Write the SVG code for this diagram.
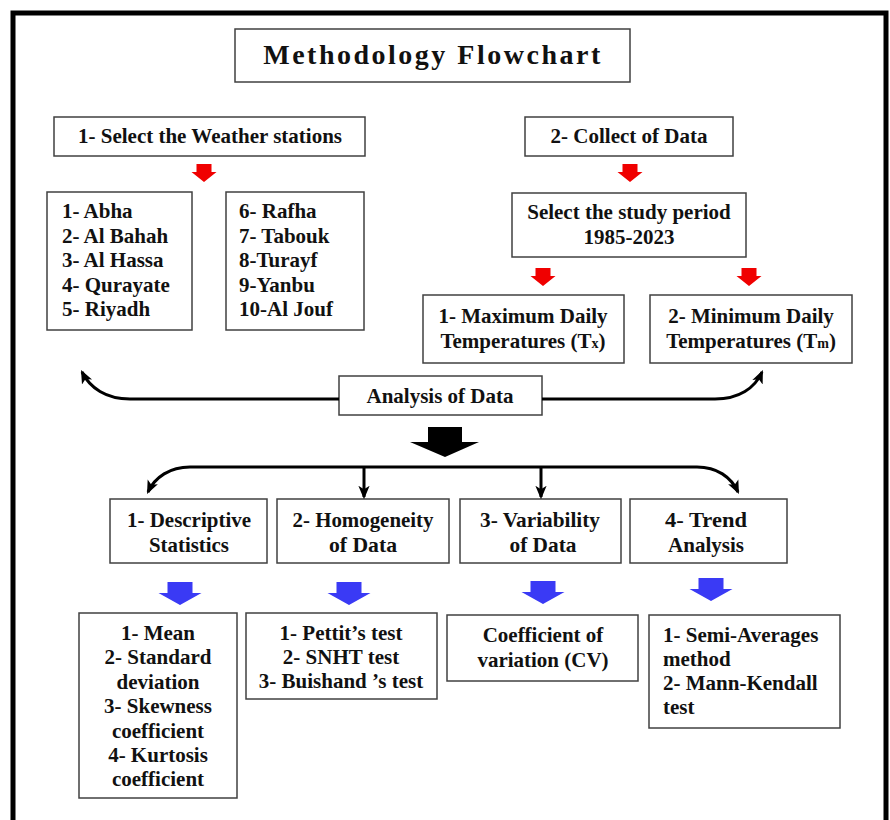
<svg xmlns="http://www.w3.org/2000/svg" width="890" height="820" viewBox="0 0 890 820">
<style>
.box{fill:#fff;stroke:#404040;stroke-width:1.5}
.t{font-family:"Liberation Serif","Times New Roman",serif;font-weight:bold;font-size:21px;fill:#111}
.c{text-anchor:middle}
.con{fill:none;stroke:#000;stroke-width:3}
.red{fill:#f00000}
.blue{fill:#3a3af5}
</style>
<defs>
<marker id="ah" viewBox="0 0 12 10" refX="10" refY="5" markerWidth="4.5" markerHeight="4.5" orient="auto" markerUnits="strokeWidth">
<path d="M0,0 L12,5 L0,10 L3,5 z" fill="#000"/>
</marker>
<path id="redArrow" d="M-7.5,0 H7.5 V8 H12.5 L0,18 L-12.5,8 H-7.5 z"/>
<path id="blueArrow" d="M-12.5,0 H12.5 V11 H21.5 L0,23 L-21.5,11 H-12.5 z"/>
</defs>
<rect x="0" y="0" width="890" height="820" fill="#fff"/>
<rect x="13" y="13" width="873" height="830" fill="none" stroke="#000" stroke-width="5"/>

<g id="title">
<rect class="box" x="235" y="29" width="395" height="53"/>
<text class="t c" x="433" y="64" style="font-size:28px;letter-spacing:2.5px">Methodology Flowchart</text>
</g>

<g id="select-stations">
<rect class="box" x="54" y="117" width="311" height="39"/>
<text class="t c" x="210" y="143">1- Select the Weather stations</text>
</g>

<g id="stations-a">
<rect class="box" x="47" y="192" width="145" height="138"/>
<text class="t" x="62" y="218">1- Abha</text>
<text class="t" x="62" y="243">2- Al Bahah</text>
<text class="t" x="62" y="267">3- Al Hassa</text>
<text class="t" x="62" y="292">4- Qurayate</text>
<text class="t" x="62" y="316">5- Riyadh</text>
</g>

<g id="stations-b">
<rect class="box" x="226" y="192" width="138" height="138"/>
<text class="t" x="239" y="218">6- Rafha</text>
<text class="t" x="239" y="243">7- Tabouk</text>
<text class="t" x="239" y="267">8-Turayf</text>
<text class="t" x="239" y="292">9-Yanbu</text>
<text class="t" x="239" y="316">10-Al Jouf</text>
</g>

<g id="collect-data">
<rect class="box" x="525" y="117" width="208" height="39"/>
<text class="t c" x="629" y="143">2- Collect of Data</text>
</g>

<g id="study-period">
<rect class="box" x="512" y="193" width="234" height="64"/>
<text class="t c" x="629" y="219">Select the study period</text>
<text class="t c" x="629" y="244">1985-2023</text>
</g>

<g id="max-temp">
<rect class="box" x="423" y="295" width="201" height="68"/>
<text class="t c" x="523" y="323">1- Maximum Daily</text>
<text class="t c" x="523" y="348">Temperatures (T<tspan style="font-size:14px">x</tspan>)</text>
</g>

<g id="min-temp">
<rect class="box" x="650" y="295" width="202" height="68"/>
<text class="t c" x="751" y="323">2- Minimum Daily</text>
<text class="t c" x="751" y="348">Temperatures (T<tspan style="font-size:14px">m</tspan>)</text>
</g>

<g id="analysis">
<rect class="box" x="339" y="376" width="203" height="39"/>
<text class="t c" x="440" y="403">Analysis of Data</text>
</g>

<g id="descriptive">
<rect class="box" x="110" y="499" width="157" height="64"/>
<text class="t c" x="189" y="527" textLength="124" lengthAdjust="spacingAndGlyphs">1- Descriptive</text>
<text class="t c" x="189" y="552" textLength="80" lengthAdjust="spacingAndGlyphs">Statistics</text>
</g>

<g id="homogeneity">
<rect class="box" x="277" y="499" width="172" height="64"/>
<text class="t c" x="363" y="527" textLength="141" lengthAdjust="spacingAndGlyphs">2- Homogeneity</text>
<text class="t c" x="363" y="552" textLength="68" lengthAdjust="spacingAndGlyphs">of Data</text>
</g>

<g id="variability">
<rect class="box" x="460" y="499" width="161" height="64"/>
<text class="t c" x="540" y="527" textLength="120" lengthAdjust="spacingAndGlyphs">3- Variability</text>
<text class="t c" x="543" y="552" textLength="67" lengthAdjust="spacingAndGlyphs">of Data</text>
</g>

<g id="trend">
<rect class="box" x="630" y="499" width="157" height="64"/>
<text class="t c" x="706" y="527" textLength="82" lengthAdjust="spacingAndGlyphs">4- Trend</text>
<text class="t c" x="706" y="552" textLength="76" lengthAdjust="spacingAndGlyphs">Analysis</text>
</g>

<g id="descriptive-items">
<rect class="box" x="79" y="613" width="158" height="185"/>
<text class="t c" x="158" y="640">1- Mean</text>
<text class="t c" x="158" y="664">2- Standard</text>
<text class="t c" x="158" y="689">deviation</text>
<text class="t c" x="158" y="713">3- Skewness</text>
<text class="t c" x="158" y="738">coefficient</text>
<text class="t c" x="158" y="762">4- Kurtosis</text>
<text class="t c" x="158" y="786">coefficient</text>
</g>

<g id="homogeneity-items">
<rect class="box" x="246" y="613" width="191" height="86"/>
<text class="t c" x="341" y="640">1- Pettit’s test</text>
<text class="t c" x="341" y="664">2- SNHT test</text>
<text class="t c" x="341" y="688">3- Buishand ’s test</text>
</g>

<g id="variability-items">
<rect class="box" x="447" y="615" width="191" height="66"/>
<text class="t c" x="543" y="642">Coefficient of</text>
<text class="t c" x="543" y="667">variation (CV)</text>
</g>

<g id="trend-items">
<rect class="box" x="649" y="615" width="191" height="113"/>
<text class="t" x="663" y="642">1- Semi-Averages</text>
<text class="t" x="663" y="666">method</text>
<text class="t" x="663" y="690">2- Mann-Kendall</text>
<text class="t" x="663" y="714">test</text>
</g>

<g id="connectors">
<use href="#redArrow" class="red" x="204" y="164"/>
<use href="#redArrow" class="red" x="630" y="164"/>
<use href="#redArrow" class="red" x="543" y="268"/>
<use href="#redArrow" class="red" x="749" y="268"/>
<path class="con" d="M339,399 H130 C106,399 90,388 82,372" marker-end="url(#ah)"/>
<path class="con" d="M542,399 H715 C739,399 755,388 762,372" marker-end="url(#ah)"/>
<path d="M428,427 H462 V442 H479 L445,457 L410,442 H428 z" fill="#000"/>
<path class="con" d="M364,467 H190 C170,467 155,477 148,492" marker-end="url(#ah)"/>
<path class="con" d="M364,467 H697 C717,467 731,477 738,492" marker-end="url(#ah)"/>
<path class="con" d="M364,467 V497" marker-end="url(#ah)"/>
<path class="con" d="M541,467 V497" marker-end="url(#ah)"/>
<use href="#blueArrow" class="blue" x="180" y="582"/>
<use href="#blueArrow" class="blue" x="349" y="582"/>
<use href="#blueArrow" class="blue" x="543" y="581"/>
<use href="#blueArrow" class="blue" x="711" y="578"/>
</g>
</svg>
